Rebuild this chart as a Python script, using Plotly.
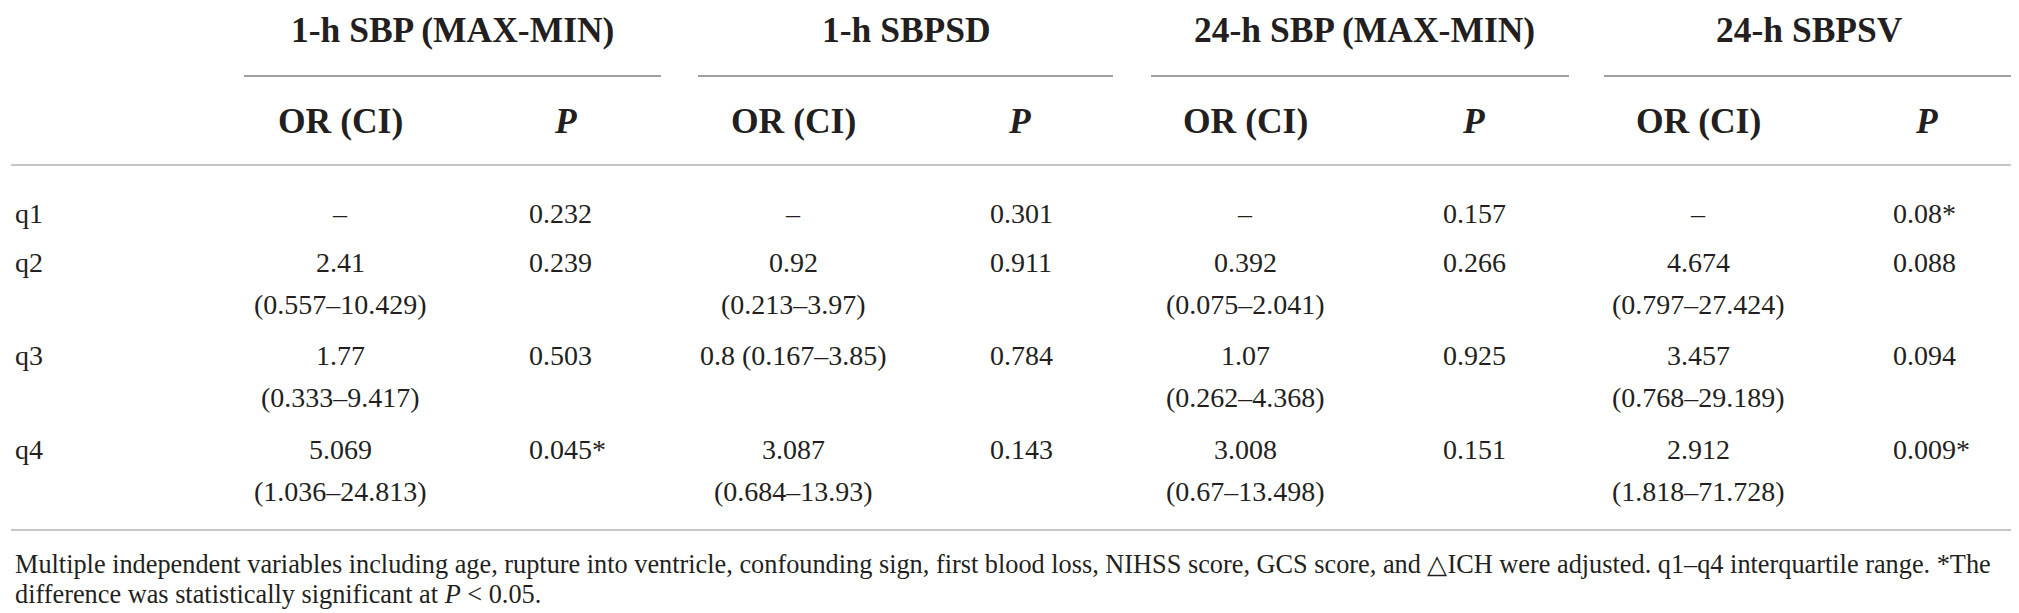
import plotly.graph_objects as go

# table content
groups = ["1-h SBP (MAX-MIN)", "1-h SBPSD", "24-h SBP (MAX-MIN)", "24-h SBPSV"]
sub_headers = ["OR (CI)", "<i>P</i>"]
quartiles = ["q1", "q2", "q3", "q4"]

or_sbp1h_range = ["–", "2.41\n(0.557–10.429)", "1.77\n(0.333–9.417)", "5.069\n(1.036–24.813)"]
p_sbp1h_range = ["0.232", "0.239", "0.503", "0.045*"]

or_sbp1h_sd = ["–", "0.92\n(0.213–3.97)", "0.8 (0.167–3.85)", "3.087\n(0.684–13.93)"]
p_sbp1h_sd = ["0.301", "0.911", "0.784", "0.143"]

or_sbp24h_range = ["–", "0.392\n(0.075–2.041)", "1.07\n(0.262–4.368)", "3.008\n(0.67–13.498)"]
p_sbp24h_range = ["0.157", "0.266", "0.925", "0.151"]

or_sbp24h_sv = ["–", "4.674\n(0.797–27.424)", "3.457\n(0.768–29.189)", "2.912\n(1.818–71.728)"]
p_sbp24h_sv = ["0.08*", "0.088", "0.094", "0.009*"]

or_cols = [or_sbp1h_range, or_sbp1h_sd, or_sbp24h_range, or_sbp24h_sv]
p_cols = [p_sbp1h_range, p_sbp1h_sd, p_sbp24h_range, p_sbp24h_sv]

footnote = [
    "Multiple independent variables including age, rupture into ventricle, confounding sign, first blood loss, "
    "NIHSS score, GCS score, and △ICH were adjusted. q1–q4 interquartile range. *The",
    "difference was statistically significant at <i>P</i> &lt; 0.05.",
]

# layout (pixels)
W, H = 2019, 613
FONT = "Liberation Serif"
group_spans = [(236, 653), (690, 1105), (1143, 1561), (1596, 2016)]
group_centers = [444, 898, 1356, 1801]
or_x = [332, 785, 1237, 1690]
p_head_x = [557, 1011, 1465, 1918]
p_left_x = [519, 980, 1433, 1883]
row_y = [205, 254, 347, 441]
line_gap = 42

fig = go.Figure()
ann = []


def txt(x, y, s, size=28, anchor="center", bold=False):
    if bold:
        s = "<b>" + s + "</b>"
    ann.append(dict(x=x, y=y, xref="x", yref="y", text=s, showarrow=False,
                    xanchor=anchor, yanchor="middle",
                    font=dict(family=FONT, size=size, color="#231f20")))


for i, g in enumerate(groups):
    txt(group_centers[i], 22, g, size=35.5, bold=True)
    txt(or_x[i], 113, sub_headers[0], size=35.5, bold=True)
    txt(p_head_x[i], 113, sub_headers[1], size=35.5, bold=True)
    fig.add_shape(type="line", x0=group_spans[i][0], x1=group_spans[i][1], y0=68, y1=68,
                  xref="x", yref="y", line=dict(color="#7f7f7f", width=1.5))

for r, q in enumerate(quartiles):
    txt(5, row_y[r], q, anchor="left")
    for c in range(4):
        for k, part in enumerate(or_cols[c][r].split("\n")):
            txt(or_x[c], row_y[r] + k * line_gap, part)
        txt(p_left_x[c], row_y[r], p_cols[c][r], anchor="left")

for yy in (157, 522):
    fig.add_shape(type="line", x0=3, x1=W, y0=yy, y1=yy, xref="x", yref="y",
                  line=dict(color="#c6c6c6", width=2.2))

txt(5, 556, footnote[0], size=26.3, anchor="left")
txt(5, 586, footnote[1], size=26.3, anchor="left")

fig.update_layout(
    width=W, height=H,
    margin=dict(l=0, r=0, t=0, b=0),
    paper_bgcolor="white", plot_bgcolor="white",
    xaxis=dict(range=[0, W], visible=False, fixedrange=True),
    yaxis=dict(range=[H, 0], visible=False, fixedrange=True),
    annotations=ann,
    showlegend=False,
)
fig.write_html("out.html")
